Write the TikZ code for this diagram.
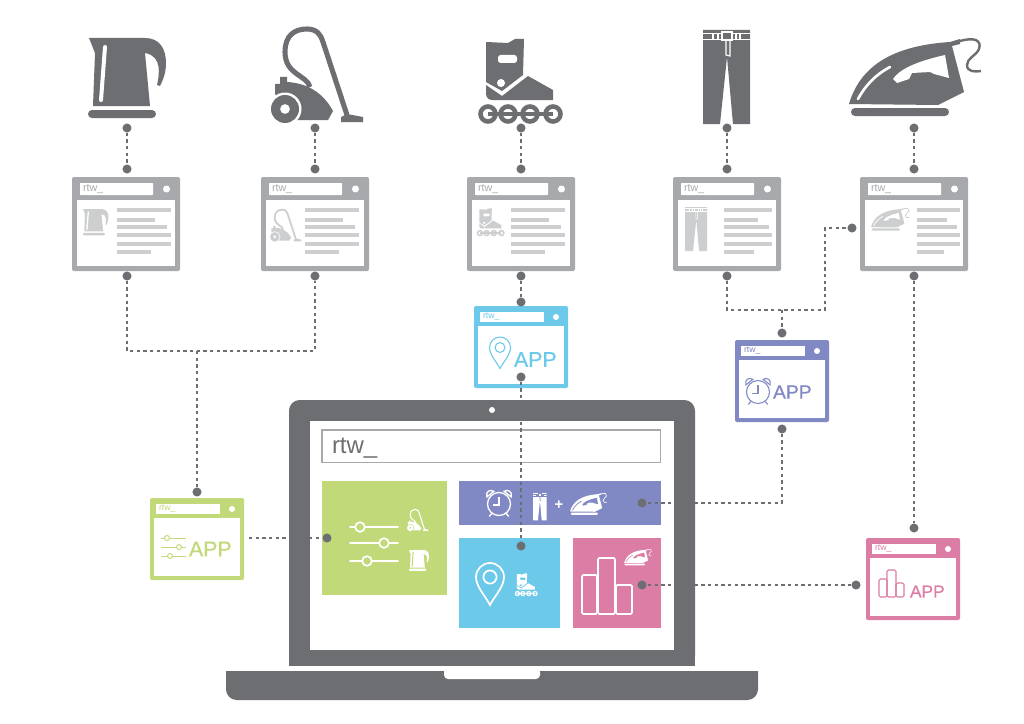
\documentclass[tikz,border=0pt]{standalone}
\usepackage{fontspec}
\setmainfont{Liberation Sans}
\newfontfamily\appfont[FakeBold=0.6]{Liberation Sans}
\definecolor{dark}{HTML}{6D6E71}
\definecolor{wingrey}{HTML}{A7A9AC}
\definecolor{lightg}{HTML}{CDCECF}
\definecolor{cblue}{HTML}{6CC9EA}
\definecolor{cgreen}{HTML}{C2D979}
\definecolor{cpurple}{HTML}{8189C4}
\definecolor{cpink}{HTML}{DC7DA6}
\tikzset{
 x=0.75pt,y=-0.75pt,
 joint/.style={circle,fill=dark,inner sep=0,minimum size=6.8pt},
 conn/.style={draw=dark,line width=1.9pt,dash pattern=on 2.4pt off 2.6pt},
 plate/.style={anchor=north west,inner sep=0,outer sep=0,rounded corners=1.5pt},
 panel/.style={anchor=north west,inner sep=0,outer sep=0},
 label/.style={anchor=west,inner sep=0,outer sep=0},
}
% icons: x, y, scale, fg, bg
\newcommand{\iconkettle}[5]{\begin{scope}[shift={(#1,#2)},scale=#3]
 \fill[#4] (0,0) -- (9,0) -- (56,0) .. controls (70,0) and (77,10) .. (77,25) .. controls (77,35) and (74,42) .. (71,48) -- (68,47) .. controls (70,38) and (74,18) .. (56,15) -- (61,68) -- (4,68) -- (6,15) -- cycle;
 \draw[#5,line width=#3*3pt,line cap=round] (16,9) -- (12,62);
 \fill[#4,rounded corners=#3*3pt] (-1,72) rectangle (67,80);
\end{scope}}
\newcommand{\iconvacuum}[5]{\begin{scope}[shift={(#1,#2)},scale=#3]
 \draw[#4,line width=#3*3.8pt] (39,60) .. controls (36,48) and (14,48) .. (14,25) .. controls (14,8) and (24,2) .. (36,2) .. controls (46,2) and (50,8) .. (52,15) -- (76,88);
 \fill[#4] (4,57) -- (9,57) -- (9,50) -- (16,50) -- (16,55) .. controls (32,56) and (50,62) .. (62,84) -- (57,93) -- (26,93) -- (14,82) -- (4,67) -- cycle;
 \fill[#5] (14,82) circle[radius=16.5];
 \fill[#4,even odd rule] (14,82) circle[radius=14] (14,82) circle[radius=5];
 \fill[#4] (70,90) -- (76,87) -- (92,90) -- (92,95) -- (70,95) -- cycle;
\end{scope}}
\newcommand{\iconskate}[5]{\begin{scope}[shift={(#1,#2)},scale=#3]
 \fill[#4] (7,4) -- (29,5) -- (36,1) -- (45,1) -- (44,37) -- (23,53) -- (7,44) -- cycle;
 \fill[#4] (49,38) -- (74,52) -- (74,62) -- (13,62) .. controls (9,62) and (7,59) .. (7,55) -- (7,47) -- (23,58) -- cycle;
 \fill[#5,rounded corners=#3*2pt] (19,17) rectangle (38,25);
 \fill[#5] (22,45) circle[radius=4];
 \foreach \wx in {9,29,51,74}{\draw[#4,line width=#3*3.4pt] (\wx,76) circle[radius=7.5];}
 \draw[#4,line width=#3*3pt] (9,76) -- (74,76);
\end{scope}}
\newcommand{\iconjeans}[5]{\begin{scope}[shift={(#1,#2)},scale=#3]
 \fill[#4] (0,0) -- (47,0) -- (47,94) -- (30,94) -- (24,27) -- (17,94) -- (0,94) -- cycle;
 \fill[#5] (0,3) rectangle (47,4);
 \fill[#5] (0,9) rectangle (47,10);
 \foreach \bx in {9,14,32,36}{\fill[#5] (\bx,3) rectangle (\bx+2,9);}
 \draw[#5,line width=#3*1.3pt,fill=#4] (19,2) rectangle (29,10);
 \draw[#5,line width=#3*.9pt] (23,10) -- (23,25) -- (27,26) -- (27,10);
\end{scope}}
\newcommand{\iconiron}[5]{\begin{scope}[shift={(#1,#2)},scale=#3]
 \fill[#4] (0,66) .. controls (10,32) and (38,8) .. (101,4) -- (111,1) -- (111,6) -- (103,8) -- (115,54) -- (89,67) -- cycle;
 \fill[#5] (44,41) .. controls (50,32) and (65,24) .. (96,17) -- (100,40) -- (85,36) -- (81,34) -- (63,35) -- (60,41) -- (48,45) -- cycle;
 \draw[#5,line width=#3*2pt,line cap=round] (9,61) .. controls (16,48) and (26,37) .. (41,29);
 \fill[#4,rounded corners=#3*3pt] (2,70) rectangle (100,78);
 \draw[#4,line width=#3*1.8pt] (111,3) .. controls (125,-1) and (133,2) .. (130,11) .. controls (127,18) and (118,20) .. (118,27) .. controls (118,34) and (126,34) .. (132,33);
\end{scope}}
% pin: cx, cy, r, colour, line width
\newcommand{\iconpin}[5]{\begin{scope}[shift={(#1,#2)},scale=#3]
 \draw[#4,line width=#5] (-1,0) .. controls (-1,-.55) and (-.55,-1) .. (0,-1) .. controls (.55,-1) and (1,-.55) .. (1,0) .. controls (1,.7) and (.3,1.4) .. (0,2) .. controls (-.3,1.4) and (-1,.7) .. (-1,0) -- cycle;
 \draw[#4,line width=#5] (0,0) circle[radius=.47];
\end{scope}}
% clock: cx, cy, r, colour, line width
\newcommand{\iconclock}[5]{\begin{scope}[shift={(#1,#2)},scale=#3]
 \draw[#4,line width=#5] (0,0) circle[radius=1];
 \draw[#4,line width=#5] (0,-.62) -- (0,.1) -- (-.55,.1);
 \draw[#4,line width=#5] (-1.05,-.62) .. controls (-1.2,-1.1) and (-.75,-1.3) .. (-.45,-1.1) -- cycle;
 \draw[#4,line width=#5] (1.05,-.62) .. controls (1.2,-1.1) and (.75,-1.3) .. (.45,-1.1) -- cycle;
 \draw[#4,line width=#5] (-.6,.8) -- (-.85,1.08) (.6,.8) -- (.85,1.08);
\end{scope}}
\newcommand{\iconbar}[6]{\draw[#5,line width=#6,rounded corners=1pt] (#1,#2) rectangle (#3,#4);}
% browser window: name, x, y, w, h, colour, barheight, rim
\newcommand{\browser}[8]{%
 \node[plate,fill=#6,minimum width=#4*.75pt,minimum height=#5*.75pt] (#1) at (#2,#3) {};
 \fill[white] ($(#2,#3)+(#8,#7)$) rectangle ($(#2,#3)+(#4,#5)-(#8,#8)$);
}
\usetikzlibrary{calc}
% product page: name, x, y, line start (relative), line length
\newcommand{\productpage}[5]{%
 \browser{#1}{#2}{#3}{108}{94}{wingrey}{23}{5}
 \fill[white,rounded corners=.5pt] ($(#2,#3)+(8,6)$) rectangle ($(#2,#3)+(81,18)$);
 \fill[white] (#2+94.5,#3+12) circle[radius=3.5];
 \node[label,text=wingrey,font=\fontsize{8}{8}\selectfont] (#1t) at (#2+11,#3+12) {rtw\_};
 \foreach \ly/\lf in {33/1,42.5/.7,50/.93,58/1,67/1,75/.63}{%
   \fill[lightg] (#2+#4,#3+\ly-2) rectangle (#2+#4+\lf*#5,#3+\ly+2);}
}
% app window: name, x, y, colour
\newcommand{\appwin}[4]{%
 \browser{#1}{#2}{#3}{94}{82}{#4}{20}{4}
 \fill[white] ($(#2,#3)+(6,6)$) rectangle ($(#2,#3)+(70,16)$);
 \fill[white] (#2+82,#3+11) circle[radius=3];
 \node[label,text=#4,font=\fontsize{6.5}{6.5}\selectfont] (#1t) at (#2+9,#3+11) {rtw\_};
}
\begin{document}
\begin{tikzpicture}
\useasboundingbox (0,0) rectangle (1024,724);
\fill[white] (0,0) rectangle (1024,724);
% top products
\iconkettle{89}{38}{1}{dark}{white}
\iconvacuum{271}{27}{1}{dark}{white}
\iconskate{479}{38}{1}{dark}{white}
\iconjeans{703}{30}{1}{dark}{white}
\iconiron{849}{38}{1}{dark}{white}
% product pages
\productpage{pa}{72}{177}{45}{54}
\productpage{pb}{261}{177}{44}{54}
\productpage{pc}{467}{177}{44}{54}
\productpage{pd}{673}{177}{51}{48}
\productpage{pe}{860}{177}{57}{43}
\iconkettle{83}{209}{.33}{lightg}{white}
\iconvacuum{270}{209}{.34}{lightg}{white}
\iconskate{477}{208}{.33}{lightg}{white}
\iconjeans{685}{207}{.47}{lightg}{white}
\iconiron{871}{208}{.29}{lightg}{white}
% app windows
\appwin{ag}{150}{498}{cgreen}
\appwin{ab}{474}{306}{cblue}
\appwin{ap}{735}{340}{cpurple}
\appwin{ak}{866}{538}{cpink}
\draw[cgreen,line width=.7pt] (161,538) -- (186,538) (161,547) -- (186,547) (161,556) -- (186,556);
\foreach \sx/\sy in {167/538,179/547,170/556}{\draw[cgreen,line width=.7pt,fill=white] (\sx,\sy) circle[radius=2.5];}
\node[label,text=cgreen,font=\appfont\fontsize{16}{16}\selectfont] (ga) at (189,549) {APP};
\iconpin{500}{347.5}{10.5}{cblue}{.8pt}
\node[label,text=cblue,font=\appfont\fontsize{16}{16}\selectfont] (ba) at (514,359.5) {APP};
\iconclock{758}{392}{11.5}{cpurple}{.8pt}
\node[label,text=cpurple,font=\appfont\fontsize{14.5}{14.5}\selectfont] (pa2) at (773,392) {APP};
\foreach \bx/\by/\bz in {879/579/887,887/570/896,896/583/904}{\iconbar{\bx}{\by}{\bz}{597}{cpink}{.8pt}}
\node[label,text=cpink,font=\appfont\fontsize{13}{13}\selectfont] (ka) at (910,591.5) {APP};
% laptop
\fill[dark,rounded corners=8pt] (289,666) -- (289,400) -- (695,400) -- (695,666) [sharp corners] -- cycle;
\fill[dark] (289,650) rectangle (695,666);
\fill[white] (310,421) rectangle (674,650);
\fill[white] (492,410) circle[radius=3];
\fill[dark,rounded corners=8pt] (226,671) [sharp corners] -- (758,671) [rounded corners=8pt] -- (758,700) -- (226,700) -- cycle;
\fill[dark] (226,671) rectangle (758,680);
\fill[white,rounded corners=3pt] (444,668) rectangle (540,679);
\fill[dark] (440,666) rectangle (545,671);
\fill[white] (226,666) rectangle (758,671);
\node[panel,draw=wingrey,line width=1.1pt,minimum width=254pt,minimum height=24.5pt] (addr) at (322,430) {};
\node[label,text=dark,font=\fontsize{18}{18}\selectfont] (addrt) at (332,448) {rtw\_};
% panels
\node[panel,fill=cgreen,minimum width=93.75pt,minimum height=85.5pt] (pg) at (322,481) {};
\node[panel,fill=cpurple,minimum width=151.5pt,minimum height=33pt] (pp) at (459,481) {};
\node[panel,fill=cblue,minimum width=75.75pt,minimum height=67.5pt] (pb2) at (459,538) {};
\node[panel,fill=cpink,minimum width=66pt,minimum height=67.5pt] (pk) at (573,538) {};
% green panel content
\draw[white,line width=1.3pt,line cap=round] (350,527) -- (398,527) (350,543) -- (398,543) (350,561) -- (398,561);
\foreach \sx/\sy in {360/527,384/543,367/561}{\draw[white,line width=1.3pt,fill=cgreen] (\sx,\sy) circle[radius=4.8];}
\iconvacuum{407}{509}{.23}{white}{cgreen}
\iconkettle{409}{550}{.26}{white}{cgreen}
% purple panel content
\iconclock{499}{504}{11.5}{white}{1pt}
\iconjeans{533}{493}{.29}{white}{cpurple}
\node[inner sep=0,text=white,font=\bfseries\fontsize{11}{11}\selectfont] (plus) at (559,505) {+};
\iconiron{570}{493}{.28}{white}{cpurple}
% blue panel content
\iconpin{490}{577}{14}{white}{1.3pt}
\iconskate{515}{573}{.27}{white}{cblue}
% pink panel content
\foreach \bx/\by/\bz in {582/575/597,598/558/615,616/585/632}{\iconbar{\bx}{\by}{\bz}{614}{white}{1.3pt}}
\iconiron{624}{549}{.21}{white}{cpink}
% joints
\foreach \n/\px/\py in {a1/127/128,a2/127/169,a3/127/276,b1/315/128,b2/315/169,b3/315/276,
 c1/521/128,c2/521/169,c3/521/276,c4/521/302,c5/521/377,c6/521/546,
 d1/727/128,d2/727/169,d3/727/276,d4/782/333,d5/852/228,d6/782/429,d7/642/503,
 e1/914/128,e2/914/169,e3/914/276,e4/914/528,e5/856/585,e6/642/585,
 g1/197/492,g2/327/538}{\node[joint] (\n) at (\px,\py) {};}
\coordinate (gs) at (249,538);
\coordinate (ab1) at (197,351);
\coordinate (dj) at (782,310);
\coordinate (dk) at (825,310);
% connectors
\draw[conn] (a1) -- (a2);
\draw[conn] (b1) -- (b2);
\draw[conn] (c1) -- (c2);
\draw[conn] (d1) -- (d2);
\draw[conn] (e1) -- (e2);
\draw[conn] (a3) |- (ab1) -| (b3);
\draw[conn] (ab1) -- (g1);
\draw[conn] (gs) -- (g2);
\draw[conn] (c3) -- (c4);
\draw[conn] (c5) -- (c6);
\draw[conn] (d3) |- (dk) |- (d5);
\draw[conn] (dj) -- (d4);
\draw[conn] (d6) |- (d7);
\draw[conn] (e3) -- (e4);
\draw[conn] (e5) -- (e6);
\end{tikzpicture}
\end{document}
